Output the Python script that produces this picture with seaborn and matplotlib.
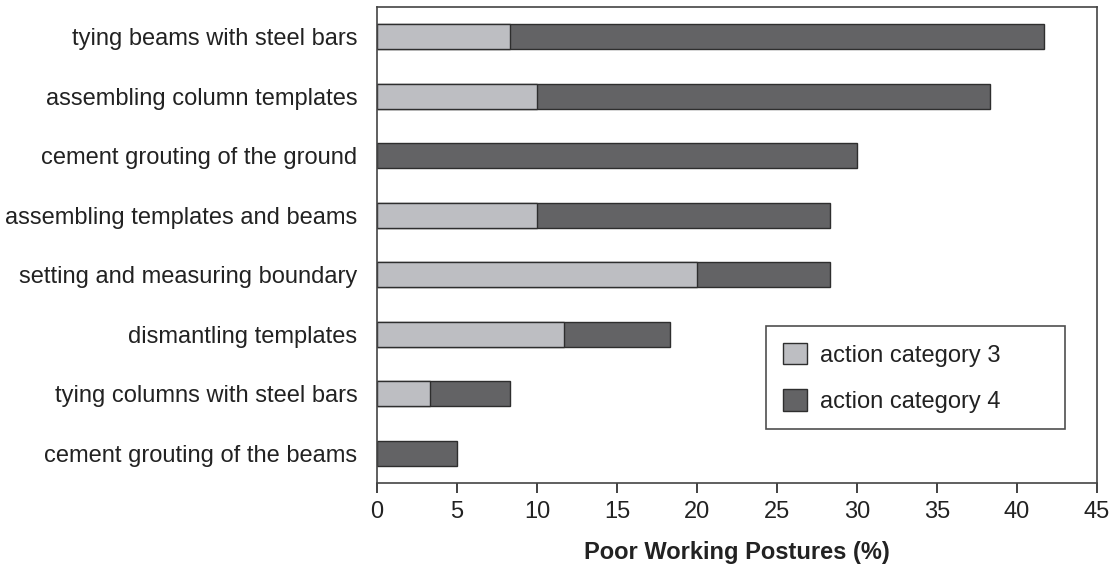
import matplotlib
matplotlib.use("Agg")
import matplotlib.pyplot as plt
import seaborn as sns
import pandas as pd
from matplotlib.patches import Patch

tasks = ["tying beams with steel bars", "assembling column templates",
         "cement grouting of the ground", "assembling templates and beams",
         "setting and measuring boundary", "dismantling templates",
         "tying columns with steel bars", "cement grouting of the beams"]
cat3 = [8.3, 10.0, 0.0, 10.0, 20.0, 11.7, 3.3, 0.0]
cat4 = [33.4, 28.3, 30.0, 18.3, 8.3, 6.6, 5.0, 5.0]
totals = [a + b for a, b in zip(cat3, cat4)]

df = pd.DataFrame({"task": tasks, "cat3": cat3, "total": totals})

sns.set_theme(style="white")
plt.rcParams["font.family"] = ["Liberation Sans", "DejaVu Sans"]

light = "#bdbec2"
dark = "#636365"
edge = "#2e2e2e"
FS = 17

fig = plt.figure(figsize=(11.11, 5.66), dpi=100)
ax = fig.add_axes([377/1111, 1-483/566, 720/1111, 476/566])

sns.barplot(data=df, x="total", y="task", color=dark, orient="h", width=0.42,
            edgecolor=edge, linewidth=1.0, ax=ax, saturation=1)
sns.barplot(data=df[df["cat3"] > 0], x="cat3", y="task", color=light, orient="h", width=0.42,
            edgecolor=edge, linewidth=1.0, ax=ax, saturation=1, order=tasks)

ax.set_xlim(0, 45)
ax.set_ylim(7.5, -0.5)
ax.set_xticks(range(0, 50, 5))
ax.tick_params(axis="x", direction="out", length=7, width=1.2, colors="#222222",
               labelsize=FS, pad=6, labelcolor="#222222", bottom=True)
ax.tick_params(axis="y", length=0, labelsize=FS, pad=14, labelcolor="#222222")
ax.set_ylabel("")
ax.set_xlabel("Poor Working Postures (%)", fontsize=FS, fontweight="bold",
              color="#222222")
ax.xaxis.set_label_coords(0.5, (483 - 541) / 476)
for s in ax.spines.values():
    s.set_visible(True)
    s.set_color("#444444")
    s.set_linewidth(1.2)

handles = [Patch(facecolor=light, edgecolor=edge, label="action category 3"),
           Patch(facecolor=dark, edgecolor=edge, label="action category 4")]
x0 = (766-377)/720
w = (1065-766)/720
y1 = (483-326)/476
h = (431-326)/476
leg = ax.legend(handles=handles, loc="upper left",
                bbox_to_anchor=(x0, y1 - h, w, h), mode="expand",
                fontsize=FS, frameon=True, fancybox=False, edgecolor="#222222",
                handlelength=1.05, handleheight=1.05, handletextpad=0.55,
                labelspacing=0.95, borderpad=0.7, borderaxespad=0)
leg.get_frame().set_linewidth(1.2)
for t in leg.get_texts():
    t.set_color("#222222")

fig.savefig("out.png", dpi=100)
